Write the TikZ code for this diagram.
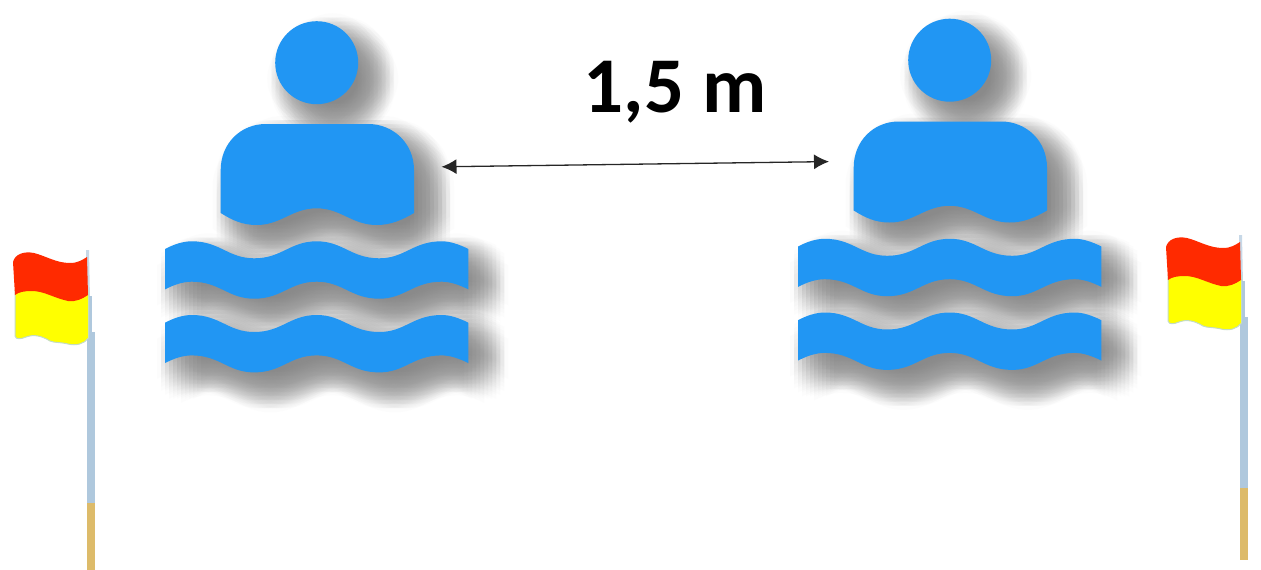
\documentclass[tikz,border=0pt]{standalone}
\usepackage{fontspec}
\setmainfont{Carlito}
\usetikzlibrary{arrows.meta}
\definecolor{swimblue}{HTML}{2196F3}
\definecolor{flagred}{HTML}{FF2A00}
\definecolor{flagyellow}{HTML}{FFFF00}
\definecolor{polesteel}{HTML}{AFC8DD}
\definecolor{polegold}{HTML}{DDBB6A}
\definecolor{fringe}{HTML}{C4DCC4}
\newcommand\waveband[1]{
  (165,#1+7.7) .. controls (174,#1+3) and (183,#1) .. (191.7,#1)
  .. controls (220,#1) and (228,#1+17) .. (254.2,#1+17)
  .. controls (282,#1+17) and (290,#1) .. (316.7,#1)
  .. controls (343,#1) and (351,#1+17) .. (379.2,#1+17)
  .. controls (405,#1+17) and (413,#1) .. (441.7,#1)
  .. controls (450,#1) and (459,#1+3) .. (468.4,#1+7.7)
  -- (468.4,#1+48.1)
  .. controls (459,#1+43.4) and (450,#1+40.4) .. (441.7,#1+40.4)
  .. controls (413,#1+40.4) and (405,#1+57.4) .. (379.2,#1+57.4)
  .. controls (351,#1+57.4) and (343,#1+40.4) .. (316.7,#1+40.4)
  .. controls (290,#1+40.4) and (282,#1+57.4) .. (254.2,#1+57.4)
  .. controls (228,#1+57.4) and (220,#1+40.4) .. (191.7,#1+40.4)
  .. controls (183,#1+40.4) and (174,#1+43.4) .. (165,#1+48.1) -- cycle }
\newcommand\swimmerpath{
  (316.7,62.7) circle[radius=41.5]
  (220.7,213) -- (220.7,170)
  .. controls (220.7,144) and (240,124) .. (266,124)
  -- (368,124)
  .. controls (394,124) and (414,144) .. (414,170)
  -- (414,213)
  .. controls (402,220) and (391,225) .. (376.7,225)
  .. controls (352,225) and (341,208.3) .. (316.7,208.3)
  .. controls (292,208.3) and (281,225) .. (256.7,225)
  .. controls (242,225) and (232,220) .. (220.7,213) -- cycle
  \waveband{241.3} \waveband{315} }
\newcommand\swimmer{
  \foreach \dx in {-24,-20,...,24}{
    \foreach \dy in {-24,-20,...,24}{
      \pgfmathtruncatemacro\inside{(\dx*\dx+\dy*\dy<=576)?1:0}
      \ifnum\inside=1
        \fill[black!50,opacity=0.025,shift={(16+\dx,16+\dy)}] \swimmerpath;
      \fi
    }
  }
  \fill[swimblue] \swimmerpath;
}
\newcommand\beachflag{
  \fill[polesteel!70!white] (86,250) -- (89,250) -- (90,300) -- (87,300) -- cycle;
  \fill[polesteel] (88,296) rectangle (92,335);
  \fill[polesteel] (86.5,332) rectangle (94.5,503);
  \fill[polegold] (86.5,503) rectangle (94.5,575);
  \path[fill=flagyellow,draw=fringe,line width=1pt,line join=round]
    (15,290) -- (88.5,290) -- (88.5,338)
    .. controls (84,344) and (76,346) .. (68,344)
    .. controls (60,342) and (55,343) .. (50,341)
    .. controls (42,336) and (34,334) .. (26,337)
    .. controls (21,339) and (16,340) .. (15,336) -- cycle;
  \fill[flagred]
    (13,262) .. controls (15,254) and (24,251) .. (34,253)
    .. controls (46,256) and (56,263) .. (70,263)
    .. controls (78,263) and (82,260) .. (87,257)
    -- (88,295)
    .. controls (82,299) and (76,302) .. (68,301)
    .. controls (54,298) and (44,291) .. (32,291)
    .. controls (24,291) and (19,292) .. (15,295) -- cycle;
}
\begin{document}
\begin{tikzpicture}[x=1pt,y=-1pt,
  gaparrow/.style={{Latex[length=15pt,width=15pt]}-{Latex[length=15pt,width=15pt]},line width=1.3pt,draw=black!85},
  gaplabel/.style={font=\bfseries\fontsize{79}{79}\selectfont,text=black,inner sep=0pt,anchor=base}]
  \useasboundingbox (0,0) rectangle (1261,570);
  \clip (0,0) rectangle (1261,570);
  \swimmer
  \begin{scope}[shift={(633,-2.5)}]
    \swimmer
  \end{scope}
  \beachflag
  \begin{scope}[shift={(1153,-15)}]
    \beachflag
  \end{scope}
  \coordinate (gapleft) at (441.5,166.8);
  \coordinate (gapright) at (829,161.6);
  \draw[gaparrow] (gapleft) -- (gapright);
  \node[gaplabel] (gaptext) at (675,112) {1,5 m};
\end{tikzpicture}
\end{document}
